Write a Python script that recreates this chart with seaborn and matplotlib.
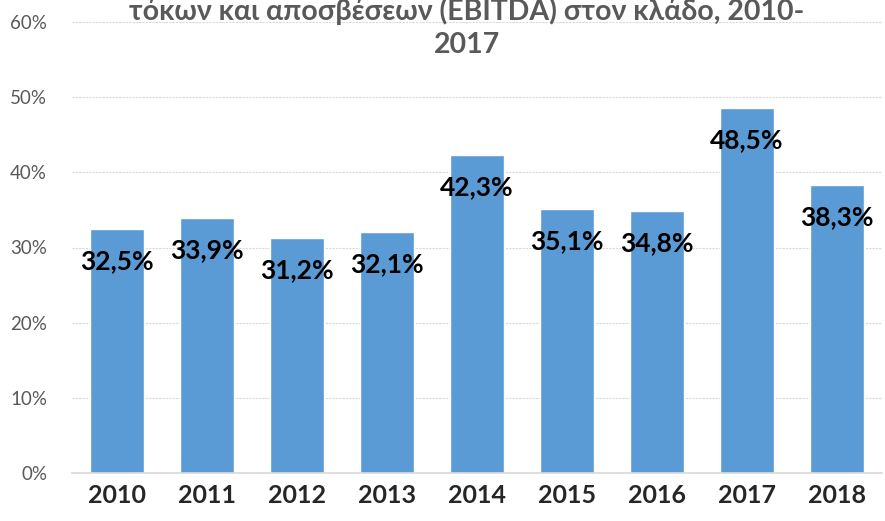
import seaborn as sns
import matplotlib.pyplot as plt
import pandas as pd

# Data
years = ["2010", "2011", "2012", "2013", "2014", "2015", "2016", "2017", "2018"]
ebitda_pct = [32.5, 33.9, 31.2, 32.1, 42.3, 35.1, 34.8, 48.5, 38.3]
title_lines = ["τόκων και αποσβέσεων (EBITDA) στον κλάδο, 2010-", "2017"]

df = pd.DataFrame({"Year": years, "EBITDA": ebitda_pct})

sns.set_style("white")
plt.rcParams["font.family"] = ["Lato", "DejaVu Sans"]

fig = plt.figure(figsize=(8.85, 5.21), dpi=100)
ax = fig.add_axes([72 / 885, 48 / 521, 810 / 885, 451 / 521])

sns.barplot(data=df, x="Year", y="EBITDA", color="#5b9bd5", width=0.6,
            saturation=1, ax=ax)

ax.set_ylim(0, 60)
ax.set_xlim(-0.5, len(years) - 0.5)
ax.set_yticks(range(0, 61, 10))
ax.set_yticklabels([f"{v}%" for v in range(0, 61, 10)], fontsize=13.5, color="#595959")
ax.set_xticks(range(len(years)))
ax.set_xticklabels(years, fontsize=18, fontweight="bold", color="#262626")
ax.tick_params(axis="y", length=0, pad=18)
ax.tick_params(axis="x", length=0, pad=8)
ax.set_xlabel("")
ax.set_ylabel("")
ax.yaxis.grid(True, color="#d9d9d9", linestyle=(0, (2, 1)), linewidth=0.8)
ax.set_axisbelow(True)
for s in ["top", "right", "left"]:
    ax.spines[s].set_visible(False)
ax.spines["bottom"].set_color("#d9d9d9")
ax.spines["bottom"].set_linewidth(1.2)

# value labels just below the bar tops
for i, v in enumerate(ebitda_pct):
    ax.annotate(f"{v:.1f}%".replace(".", ","), (i, v), xytext=(0, -23),
                textcoords="offset points", ha="center", va="center",
                fontsize=19, fontweight="bold", color="black")

# title (first line partly cut off at top of figure, as in the source)
fig.text(467 / 885, 1 - 11 / 521, title_lines[0], ha="center", va="center",
         fontsize=20.5, fontweight="bold", color="#595959")
fig.text(467 / 885, 1 - 45 / 521, title_lines[1], ha="center", va="center",
         fontsize=20.5, fontweight="bold", color="#595959")

fig.savefig("out.png", dpi=100)
